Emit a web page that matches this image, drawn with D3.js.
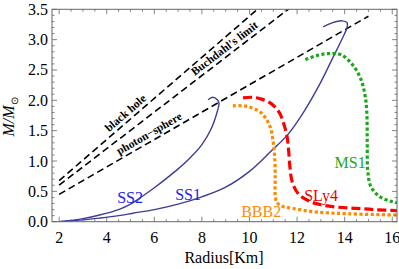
<!DOCTYPE html>
<html><head><meta charset="utf-8">
<script src="https://cdn.jsdelivr.net/npm/d3@7"></script>
</head><body style="margin:0;background:#fff">
<svg id="c" width="399" height="269" style="display:block" font-family="Liberation Serif"></svg>
<script>
// ---- data ----
const xTicks = [2, 4, 6, 8, 10, 12, 14, 16];
const yTicks = [0, 0.5, 1, 1.5, 2, 2.5, 3, 3.5];
const yTickLabels = ["0.0","0.5","1.0","1.5","2.0","2.5","3.0","3.5"];

const blackHole = [[2, 0.677], [12, 4.064]];
const buchdahl  = [[2, 0.602], [13, 3.913]];
const photon    = [[2, 0.451], [15, 3.386]];

const ss2 = [[2,0.0],[3,0.05],[3.7,0.11],[4.5,0.2],[5,0.29],[5.5,0.42],[6,0.56],[6.5,0.71],[7,0.87],[7.5,1.05],[8,1.27],[8.4,1.54],[8.65,1.82],[8.72,1.95],[8.65,2.01],[8.45,2.05],[8.26,2.01]];
const ss1 = [[2,0.0],[3,0.03],[3.7,0.06],[4.5,0.1],[5.1,0.14],[6,0.2],[7,0.29],[8,0.41],[9,0.57],[10,0.83],[10.9,1.16],[11.6,1.43],[12.25,1.79],[12.97,2.28],[13.5,2.7],[13.9,3.02],[14.1,3.2],[14.1,3.28],[13.9,3.31],[13.5,3.28],[13.1,3.21]];
const sly4 = [[9.73,2.04],[10.1,2.05],[10.5,2.02],[10.9,1.95],[11.25,1.8],[11.45,1.6],[11.58,1.4],[11.65,1.15],[11.7,0.9],[11.8,0.65],[12.05,0.46],[12.5,0.34],[13,0.28],[13.7,0.24],[14.5,0.22],[15.2,0.2],[16.3,0.18]];
const bbb2 = [[9.3,1.91],[9.9,1.9],[10.5,1.79],[10.85,1.58],[11.0,1.3],[11.07,1.0],[11.08,0.7],[11.08,0.45],[11.15,0.32],[11.35,0.26],[11.8,0.22],[12.8,0.16],[14.2,0.13],[16.3,0.11]];
const ms1 = [[12.35,2.67],[12.85,2.74],[13.3,2.77],[13.85,2.75],[14.3,2.6],[14.65,2.38],[14.85,2.1],[14.93,1.8],[14.95,1.3],[14.97,0.85],[15.1,0.58],[15.45,0.42],[15.9,0.34],[16.3,0.31]];

const curveNames = ["SS2","SS1","SLy4","BBB2","MS1"];
const limitNames = ["black hole","Buchdahl's limit","photon\u2212sphere"];

// ---- layout ----
const FONT = "Liberation Serif";
const L = 52, R = 397, T = 9.3, B = 221.7;
const x = d3.scaleLinear().domain([1.7, 16.2]).range([L, R]);
const y = d3.scaleLinear().domain([0, 3.5]).range([B, T]);
const svg = d3.select("#c");

function txt(sel){ return sel.attr("font-family",FONT).style("font-family","'"+FONT+"'"); }

svg.append("defs").append("clipPath").attr("id","clip")
  .append("rect").attr("x",L).attr("y",T).attr("width",R-L).attr("height",B-T);

const plot = svg.append("g").attr("clip-path","url(#clip)");
const line = d3.line().x(d=>x(d[0])).y(d=>y(d[1])).curve(d3.curveCatmullRom.alpha(0.5));
const straight = d3.line().x(d=>x(d[0])).y(d=>y(d[1]));

[blackHole, buchdahl, photon].forEach(d=>{
  plot.append("path").attr("d", straight(d)).attr("fill","none")
    .attr("stroke","#000").attr("stroke-width",1.6).attr("stroke-dasharray","7,4");
});

const series = [
  {d: ss2, c:"rgb(61,61,153)", w:1.4, dash:null},
  {d: ss1, c:"rgb(61,61,153)", w:1.4, dash:null},
  {d: sly4, c:"#ff0000", w:3.2, dash:"9,4"},
  {d: bbb2, c:"#ff8a00", w:3.2, dash:"3.2,2.4"},
  {d: ms1, c:"#1aa81a", w:3.2, dash:"3.2,2.4"}
];
series.forEach(s=>{
  const p = plot.append("path").attr("d", line(s.d)).attr("fill","none")
    .attr("stroke", s.c).attr("stroke-width", s.w);
  if (s.dash) p.attr("stroke-dasharray", s.dash);
});

// frame & ticks
const frameColor = "#666";
svg.append("rect").attr("x",L).attr("y",T).attr("width",R-L).attr("height",B-T)
  .attr("fill","none").attr("stroke",frameColor).attr("stroke-width",1);

const tg = svg.append("g").attr("stroke",frameColor).attr("stroke-width",0.8);
d3.range(2, 16.3, 0.5).forEach(v=>{
  const major = Math.abs(v/2 - Math.round(v/2)) < 1e-6;
  const len = major ? 5 : 2.5;
  const px = x(v);
  tg.append("line").attr("x1",px).attr("x2",px).attr("y1",B).attr("y2",B-len);
  tg.append("line").attr("x1",px).attr("x2",px).attr("y1",T).attr("y2",T+len);
});
d3.range(0, 3.501, 0.1).forEach(v=>{
  const major = Math.abs(v*2 - Math.round(v*2)) < 1e-6;
  const len = major ? 5 : 2.5;
  const py = y(v);
  tg.append("line").attr("y1",py).attr("y2",py).attr("x1",L).attr("x2",L+len);
  tg.append("line").attr("y1",py).attr("y2",py).attr("x1",R).attr("x2",R-len);
});

// tick labels
txt(svg.append("g").selectAll("text").data(xTicks).join("text"))
  .attr("x",d=>x(d)).attr("y",243).attr("text-anchor","middle")
  .attr("font-size",16).attr("fill","#000").text(d=>d);
txt(svg.append("g").selectAll("text").data(yTicks).join("text"))
  .attr("x",48).attr("y",d=>y(d)+5.5).attr("text-anchor","end")
  .attr("font-size",16).attr("fill","#000").text((d,i)=>yTickLabels[i]);

// axis titles
txt(svg.append("text")).attr("x",224).attr("y",263).attr("text-anchor","middle")
  .attr("font-size",16).text("Radius[Km]");
const yl = txt(svg.append("text")).attr("transform","translate(14,117) rotate(-90)")
  .attr("text-anchor","middle").attr("font-size",16);
yl.append("tspan").attr("font-style","italic").text("M/M");
yl.append("tspan").attr("font-size",10).attr("dy",4).text("\u2299");

// limit line labels
const limitLines = [blackHole, buchdahl, photon];
const limitAt = [5.0, 9.15, 5.95];
limitLines.forEach((d,i)=>{
  const slope = (d[1][1]-d[0][1])/(d[1][0]-d[0][0]);
  const r0 = limitAt[i];
  const m0 = d[0][1] + slope*(r0-d[0][0]);
  const px = x(r0), py = y(m0);
  const ang = Math.atan2(y(m0+slope)-py, x(r0+1)-px)*180/Math.PI;
  txt(svg.append("text")).attr("transform",`translate(${px},${py}) rotate(${ang})`)
    .attr("y",-4).attr("text-anchor","middle").attr("font-size",11.5)
    .attr("font-weight","bold").text(limitNames[i]);
});

// curve labels
const labelPos = [[4.98,0.307],[7.42,0.356],[13.01,0.34],[10.49,0.077],[14.23,0.88]];
const labelCol = ["#2222ee","#2222ee","#ee0000","#ff8a00","#1aa81a"];
curveNames.forEach((n,i)=>{
  txt(svg.append("text")).attr("x",x(labelPos[i][0])).attr("y",y(labelPos[i][1]))
    .attr("text-anchor","middle").attr("font-size",16).attr("fill",labelCol[i]).text(n);
});
</script>
</body></html>
